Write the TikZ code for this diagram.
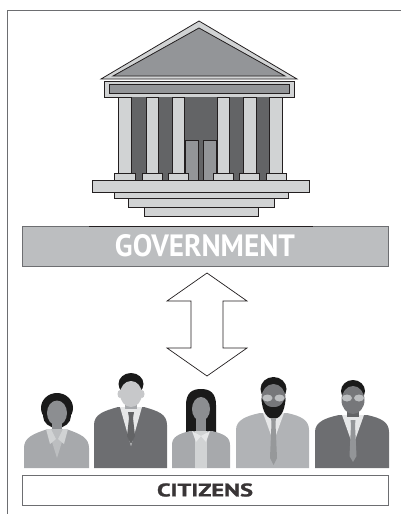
\documentclass[tikz,border=0pt]{standalone}
\usepackage{fontspec}
\setmainfont{PT Sans}
\newfontfamily\heavylabel{PT Sans}[BoldFeatures={FakeBold=1.2}]
\usepackage{graphicx}
\definecolor{framegray}{HTML}{6D6E71}
\definecolor{ink}{HTML}{231F20}
\definecolor{stonelight}{HTML}{D1D3D4}
\definecolor{stonemid}{HTML}{939598}
\definecolor{stonedark}{HTML}{636466}
\definecolor{govfill}{HTML}{BCBEC0}
\definecolor{shirt}{HTML}{E6E7E8}
\definecolor{suitdark}{HTML}{6D6E71}
\definecolor{suitmid}{HTML}{A7A9AC}
\definecolor{suitlight}{HTML}{B1B3B6}
\definecolor{skinlight}{HTML}{C7C8CA}
\definecolor{skinmid}{HTML}{8C8E91}
\definecolor{skindark}{HTML}{76777A}
\definecolor{hair}{HTML}{1A1A1A}
\tikzset{
  stone/.style={fill=stonelight, draw=ink, line width=0.8pt},
  stonein/.style={fill=stonemid, draw=ink, line width=0.8pt},
  govbox/.style={rectangle, fill=govfill, draw=framegray, line width=0.8pt,
    minimum width=366pt, minimum height=40pt, inner sep=0pt},
  citbox/.style={rectangle, fill=white, draw=framegray, line width=0.8pt,
    minimum width=366pt, minimum height=30pt, inner sep=0pt},
  blockarrow/.style={fill=white, draw=ink, line width=0.7pt, line join=miter},
}
\begin{document}
\begin{tikzpicture}[x=1pt, y=-1pt]
\useasboundingbox (0,0) rectangle (401,514);

% page frame
\draw[framegray, line width=1pt] (401,10) -- (7,10) -- (7,514);

% ---------- temple ----------
% pediment
\draw[stone] (199,21) -- (297,79) -- (101,79) -- cycle;
\draw[stonein] (199,28) -- (285,76) -- (113,76) -- cycle;
% entablature
\draw[stone] (104,81) rectangle (294,97);
\draw[stonein] (109,84) rectangle (289,93);
% back wall
\fill[stonedark] (126,97) rectangle (276,180);
% door
\draw[stonein] (185,140) rectangle (198,180);
\draw[stonein] (203,140) rectangle (216,180);
% columns
\foreach \a/\b in {118/131, 146/158, 172/184, 217/229, 243/256, 269/282}
  \draw[stone] (\a,97) rectangle (\b,173);
% column bases
\foreach \a/\b in {114/135, 142/162, 168/188, 213/233, 239/259, 266/286}
  \draw[stone] (\a,173) rectangle (\b,180);
% steps
\draw[stone] (144,207) rectangle (258,216);
\draw[stone] (128,198) rectangle (274,207);
\draw[stone] (114,192) rectangle (288,198);
\draw[stone] (92,180) rectangle (309,192);

% ---------- labels ----------
\node[govbox] (gov) at (205,246)
  {\color{white}\resizebox{180pt}{22pt}{\bfseries GOVERNMENT}};
\draw[ink, line width=0.8pt] (89,226) -- (313,226);

\node[citbox] (cit) at (205,490)
  {\color{ink!90}\resizebox{96pt}{13pt}{\heavylabel\bfseries CITIZENS}};

% ---------- two-way block arrow ----------
\coordinate (up) at (207,273);
\coordinate (down) at (207,376);
\draw[blockarrow] (up) -- (247,301) -- (223,301) -- (223,348) -- (247,348)
  -- (down) -- (167,348) -- (191,348) -- (191,301) -- (167,301) -- cycle;

% ---------- citizens ----------
% woman, left
\fill[hair] (57,408) ellipse [x radius=16, y radius=15];
\fill[hair] (57,416) ellipse [x radius=14, y radius=12];
\fill[suitmid] (24,468) -- (24,448) .. controls (24,438) and (32,434) .. (48,429)
  -- (66,429) .. controls (81,434) and (89,438) .. (89,448) -- (89,468) -- cycle;
\fill[skinmid] (52,418) rectangle (62,431);
\fill[skinmid] (57,413) ellipse [x radius=10, y radius=12.5];
\fill[govfill] (48,429) -- (57,458) -- (66,429) -- cycle;
\fill[stonelight] (46,429) -- (50,444) -- (56,439) -- (51,429) -- cycle;
\fill[stonelight] (68,429) -- (64,444) -- (58,439) -- (63,429) -- cycle;

% man, tall
\fill[suitdark] (94,468) -- (94,425) .. controls (94,414) and (104,411) .. (118,407)
  -- (144,407) .. controls (158,411) and (167,414) .. (167,425) -- (167,468) -- cycle;
\fill[shirt] (120,407) -- (131,446) -- (142,407) -- cycle;
\fill[suitmid] (125,398) rectangle (137,409);
\fill[hair] (131,384) ellipse [x radius=12.5, y radius=11];
\fill[skinlight] (120,394) ellipse [x radius=2.5, y radius=4];
\fill[skinlight] (142,394) ellipse [x radius=2.5, y radius=4];
\fill[skinlight] (131,394) ellipse [x radius=11, y radius=13];
\fill[stonedark] (128,412) -- (134,412) -- (133,418) -- (129,418) -- cycle;
\fill[stonedark] (129,418) -- (133,418) -- (135,436) -- (131,444) -- (127,436) -- cycle;

% woman, centre
\fill[hair] (186,433) -- (186,405) .. controls (186,393) and (192,389) .. (201,389)
  .. controls (210,389) and (216,393) .. (216,405) -- (216,433) -- cycle;
\fill[suitmid] (172,468) -- (172,445) .. controls (172,437) and (178,434) .. (190,431)
  -- (212,431) .. controls (224,434) and (230,437) .. (230,445) -- (230,468) -- cycle;
\fill[skinmid] (196,418) rectangle (206,432);
\fill[skinmid] (201,409) ellipse [x radius=9, y radius=12];
\fill[stonelight] (195,431) rectangle (207,468);
\fill[shirt] (192,431) -- (196,442) -- (201,436) -- cycle;
\fill[shirt] (210,431) -- (206,442) -- (201,436) -- cycle;

% man with beard and glasses
\fill[suitlight] (236,468) -- (236,430) .. controls (236,420) and (246,416) .. (260,413)
  -- (287,413) .. controls (301,416) and (309,420) .. (309,430) -- (309,468) -- cycle;
\fill[shirt] (263,413) -- (273.5,442) -- (284,413) -- cycle;
\fill[suitdark] (268,405) rectangle (279,415);
\fill[hair] (273.5,389) ellipse [x radius=13, y radius=12];
\fill[skindark] (273.5,398) ellipse [x radius=12, y radius=14];
\fill[hair] (261.5,398) .. controls (262,413) and (268,419) .. (273.5,419)
  .. controls (279,419) and (285,413) .. (285.5,398) -- (283,402)
  .. controls (280,409) and (267,409) .. (264,402) -- cycle;
\fill[govfill] (267.5,398) ellipse [x radius=5, y radius=3.5];
\fill[govfill] (279.5,398) ellipse [x radius=5, y radius=3.5];
\fill[govfill!80!black] (271,418) -- (276,418) -- (275.5,423) -- (271.5,423) -- cycle;
\fill[govfill!80!black] (271.5,423) -- (275.5,423) -- (277,458) -- (273.5,465) -- (270,458) -- cycle;

% man with glasses, right
\fill[suitdark] (315,468) -- (315,432) .. controls (315,422) and (325,418) .. (339,415)
  -- (367,415) .. controls (381,418) and (389,422) .. (389,432) -- (389,468) -- cycle;
\fill[shirt] (342,415) -- (353,446) -- (364,415) -- cycle;
\fill[stonedark] (347,407) rectangle (359,417);
\fill[hair] (353,391) ellipse [x radius=12, y radius=11];
\fill[skindark] (353,400) ellipse [x radius=11.5, y radius=14];
\fill[govfill] (347,398) ellipse [x radius=5, y radius=3.5];
\fill[govfill] (359,398) ellipse [x radius=5, y radius=3.5];
\fill[stonemid] (350.5,420) -- (355.5,420) -- (355,425) -- (351,425) -- cycle;
\fill[stonemid] (351,425) -- (355,425) -- (356.5,456) -- (353,462) -- (349.5,456) -- cycle;
\end{tikzpicture}
\end{document}
